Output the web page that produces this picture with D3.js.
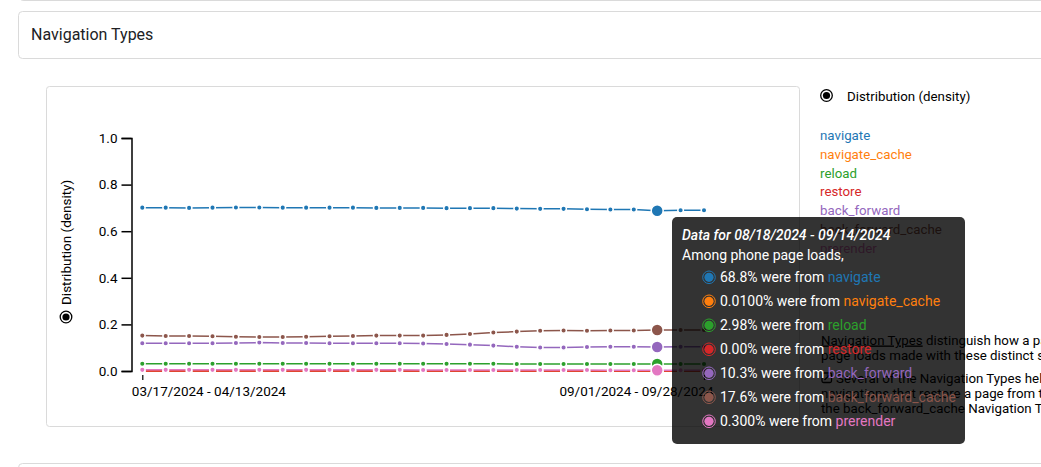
<!DOCTYPE html>
<html>
<head>
<meta charset="utf-8">
<script src="https://cdn.jsdelivr.net/npm/d3@7"></script>
<style>
body { margin: 0; background: #fff; overflow: hidden; }
svg { display: block; font-family: Roboto, "Noto Sans", sans-serif; }
</style>
</head>
<body>
<svg id="chart" width="1041" height="467"></svg>
<script>
// 28-day collection periods, one per week
const periods = [
  "03/17/2024 - 04/13/2024", "03/24/2024 - 04/20/2024", "03/31/2024 - 04/27/2024",
  "04/07/2024 - 05/04/2024", "04/14/2024 - 05/11/2024", "04/21/2024 - 05/18/2024",
  "04/28/2024 - 05/25/2024", "05/05/2024 - 06/01/2024", "05/12/2024 - 06/08/2024",
  "05/19/2024 - 06/15/2024", "05/26/2024 - 06/22/2024", "06/02/2024 - 06/29/2024",
  "06/09/2024 - 07/06/2024", "06/16/2024 - 07/13/2024", "06/23/2024 - 07/20/2024",
  "06/30/2024 - 07/27/2024", "07/07/2024 - 08/03/2024", "07/14/2024 - 08/10/2024",
  "07/21/2024 - 08/17/2024", "07/28/2024 - 08/24/2024", "08/04/2024 - 08/31/2024",
  "08/11/2024 - 09/07/2024", "08/18/2024 - 09/14/2024", "08/25/2024 - 09/21/2024",
  "09/01/2024 - 09/28/2024"
]
const seriesNames = ["navigate", "navigate_cache", "reload", "restore", "back_forward", "back_forward_cache", "prerender"]
const seriesColors = ["#1f77b4", "#ff7f0e", "#2ca02c", "#d62728", "#9467bd", "#8c564b", "#e377c2"]

const navigate = [0.701, 0.701, 0.700, 0.701, 0.702, 0.702, 0.701, 0.701, 0.701, 0.701, 0.700, 0.700, 0.700,
  0.699, 0.699, 0.699, 0.697, 0.696, 0.696, 0.694, 0.693, 0.693, 0.688, 0.690, 0.690]
const navigateCache = [0.0001, 0.0001, 0.0001, 0.0001, 0.0001, 0.0001, 0.0001, 0.0001, 0.0001, 0.0001, 0.0001, 0.0001, 0.0001,
  0.0001, 0.0001, 0.0001, 0.0001, 0.0001, 0.0001, 0.0001, 0.0001, 0.0001, 0.0001, 0.0001, 0.0001]
const reload = [0.031, 0.031, 0.031, 0.031, 0.031, 0.031, 0.031, 0.031, 0.031, 0.031, 0.031, 0.031, 0.031,
  0.031, 0.031, 0.031, 0.030, 0.030, 0.030, 0.030, 0.030, 0.030, 0.0298, 0.030, 0.030]
const restore = [0, 0, 0, 0, 0, 0, 0, 0, 0, 0, 0, 0, 0, 0, 0, 0, 0, 0, 0, 0, 0, 0, 0, 0, 0]
const backForward = [0.119, 0.119, 0.119, 0.119, 0.120, 0.122, 0.120, 0.120, 0.119, 0.119, 0.119, 0.119, 0.118,
  0.116, 0.113, 0.109, 0.104, 0.101, 0.101, 0.103, 0.104, 0.104, 0.103, 0.104, 0.104]
const backForwardCache = [0.152, 0.150, 0.150, 0.149, 0.147, 0.146, 0.146, 0.147, 0.149, 0.150, 0.152, 0.152, 0.152,
  0.155, 0.159, 0.165, 0.169, 0.173, 0.174, 0.173, 0.174, 0.174, 0.176, 0.176, 0.176]
const prerender = [0.005, 0.005, 0.005, 0.005, 0.005, 0.005, 0.005, 0.005, 0.005, 0.005, 0.005, 0.005, 0.004,
  0.004, 0.004, 0.004, 0.004, 0.004, 0.004, 0.004, 0.003, 0.003, 0.003, 0.003, 0.003]

const yTicks = [0, 0.2, 0.4, 0.6, 0.8, 1.0]
const xTickIdx = [0, 24]
const highlight = 22
const formFactor = "phone"

const seriesValues = [navigate, navigateCache, reload, restore, backForward, backForwardCache, prerender]

const svg = d3.select("#chart")
const fmtPct = d3.format(".3p")

// page panels
const border = "#dadada"
svg.append("path").attr("d", "M18.5,-5 Q18.5,0.5 24,0.5 H1045")
  .attr("fill", "none").attr("stroke", border)
svg.append("rect").attr("x", 18.5).attr("y", 11.5).attr("width", 1040).attr("height", 47).attr("rx", 4)
  .attr("fill", "#fff").attr("stroke", border)
svg.append("text").attr("x", 31).attr("y", 39.5).attr("font-size", 16).attr("fill", "#202124")
  .text("Navigation Types")
svg.append("rect").attr("x", 46.5).attr("y", 86.5).attr("width", 753).attr("height", 340).attr("rx", 3)
  .attr("fill", "#fff").attr("stroke", border)
svg.append("rect").attr("x", 18.5).attr("y", 463.5).attr("width", 1040).attr("height", 30).attr("rx", 4)
  .attr("fill", "#fff").attr("stroke", border)

// scales
const x = d3.scaleLinear().domain([0, periods.length - 1]).range([142.3, 704])
const y = d3.scaleLinear().domain([0, 1]).range([371, 138])

const yAxis = svg.append("g")
  .attr("transform", "translate(131.5,0)")
  .call(d3.axisLeft(y).tickValues(yTicks).tickFormat(d3.format(".1f")).tickSize(10).tickPadding(4))
yAxis.selectAll("text").attr("font-size", 13.5).attr("font-family", "Roboto").attr("fill", "#000")
yAxis.select(".domain").attr("stroke-width", 1.5)
yAxis.selectAll(".tick line").attr("stroke-width", 1.5)

const xAxis = svg.append("g")
  .attr("transform", "translate(0,375)")
  .call(d3.axisBottom(x).tickValues(xTickIdx).tickFormat(i => periods[i]).tickSize(5).tickPadding(6))
xAxis.select(".domain").remove()
xAxis.selectAll(".tick line").attr("stroke-width", 1.2)
xAxis.selectAll("text").attr("font-size", 13.5).attr("font-family", "Roboto").attr("fill", "#000")
  .attr("text-anchor", (d, i) => i === 0 ? "start" : "end")
  .attr("dx", (d, i) => i === 0 ? -11 : 9)

// y axis title with radio mark
const yTitle = svg.append("g").attr("transform", "translate(66,253) rotate(-90)")
yTitle.append("circle").attr("cx", -64).attr("cy", 0).attr("r", 5.8)
  .attr("fill", "#fff").attr("stroke", "#000").attr("stroke-width", 1.3)
yTitle.append("circle").attr("cx", -64).attr("cy", 0).attr("r", 3.6).attr("fill", "#000")
yTitle.append("text").attr("x", -52).attr("y", 4.7).attr("font-size", 13.5).attr("fill", "#000")
  .text("Distribution (density)")

// lines + points
const line = d3.line().x((d, i) => x(i)).y(d => y(d))
seriesValues.forEach((vals, s) => {
  const g = svg.append("g")
  g.append("path").datum(vals).attr("d", line)
    .attr("fill", "none").attr("stroke", seriesColors[s]).attr("stroke-width", 1.5)
  g.selectAll("circle").data(vals).join("circle")
    .attr("cx", (d, i) => x(i)).attr("cy", d => y(d))
    .attr("r", (d, i) => i === highlight ? 6 : 2.8)
    .attr("fill", seriesColors[s]).attr("stroke", "#fff").attr("stroke-width", 1.5)
})

// legend on the right
svg.append("circle").attr("cx", 826.5).attr("cy", 95.5).attr("r", 5.8)
  .attr("fill", "#fff").attr("stroke", "#000").attr("stroke-width", 1.3)
svg.append("circle").attr("cx", 826.5).attr("cy", 95.5).attr("r", 3.6).attr("fill", "#000")
svg.append("text").attr("x", 847).attr("y", 100.7).attr("font-size", 13.3).attr("fill", "#000")
  .text("Distribution (density)")
svg.append("g").selectAll("text").data(seriesNames).join("text")
  .attr("x", 820).attr("y", (d, i) => 139.7 + i * 18.9)
  .attr("font-size", 13.3).attr("fill", (d, i) => seriesColors[i])
  .text(d => d)

// description text
const para = svg.append("g").attr("font-size", 13.3).attr("fill", "#000")
const p1 = para.append("text").attr("x", 821).attr("y", 344.5)
p1.append("tspan").attr("text-decoration", "underline").text("Navigation Types")
p1.append("tspan").text(" distinguish how a page was navigated to; the chart shows the proportion of")
para.append("text").attr("x", 821).attr("y", 359.5)
  .text("page loads made with these distinct semantics.")
para.append("rect").attr("x", 822).attr("y", 373).attr("width", 9.5).attr("height", 9.5).attr("rx", 1.5)
  .attr("fill", "none").attr("stroke", "#000").attr("stroke-width", 1.3)
para.append("path").attr("d", "M824.5,380 L829.5,375 M826.5,375 H829.5 V378")
  .attr("fill", "none").attr("stroke", "#000").attr("stroke-width", 1.2)
para.append("text").attr("x", 836).attr("y", 382.5)
  .text("Several of the Navigation Types help explain performance differences, for example")
para.append("text").attr("x", 821).attr("y", 397.5)
  .text("navigations that restore a page from the back/forward cache are reported as")
para.append("text").attr("x", 821).attr("y", 412.5)
  .text("the back_forward_cache Navigation Type.")

// tooltip for the highlighted period
const tip = svg.append("g")
tip.append("rect").attr("x", 672).attr("y", 217).attr("width", 293).attr("height", 227).attr("rx", 5)
  .attr("fill", "rgba(0,0,0,0.8)")
tip.append("text").attr("x", 682).attr("y", 240).attr("font-size", 14).attr("font-style", "italic")
  .attr("font-weight", 500).attr("fill", "#fff")
  .text("Data for " + periods[highlight])
tip.append("text").attr("x", 682).attr("y", 260).attr("font-size", 14).attr("fill", "#fff")
  .text("Among " + formFactor + " page loads,")
const rows = tip.selectAll("g.row").data(seriesNames).join("g").attr("class", "row")
  .attr("transform", (d, i) => "translate(0," + (277.3 + i * 24) + ")")
rows.append("circle").attr("cx", 709).attr("cy", 0).attr("r", 6.3)
  .attr("fill", "none").attr("stroke", (d, i) => seriesColors[i]).attr("stroke-width", 1)
rows.append("circle").attr("cx", 709).attr("cy", 0).attr("r", 4.6)
  .attr("fill", (d, i) => seriesColors[i])
const rowText = rows.append("text").attr("x", 720).attr("y", 5).attr("font-size", 14)
rowText.append("tspan").attr("fill", "#fff")
  .text((d, i) => fmtPct(seriesValues[i][highlight]) + " were from ")
rowText.append("tspan").attr("fill", (d, i) => seriesColors[i]).text(d => d)
</script>
</body>
</html>
